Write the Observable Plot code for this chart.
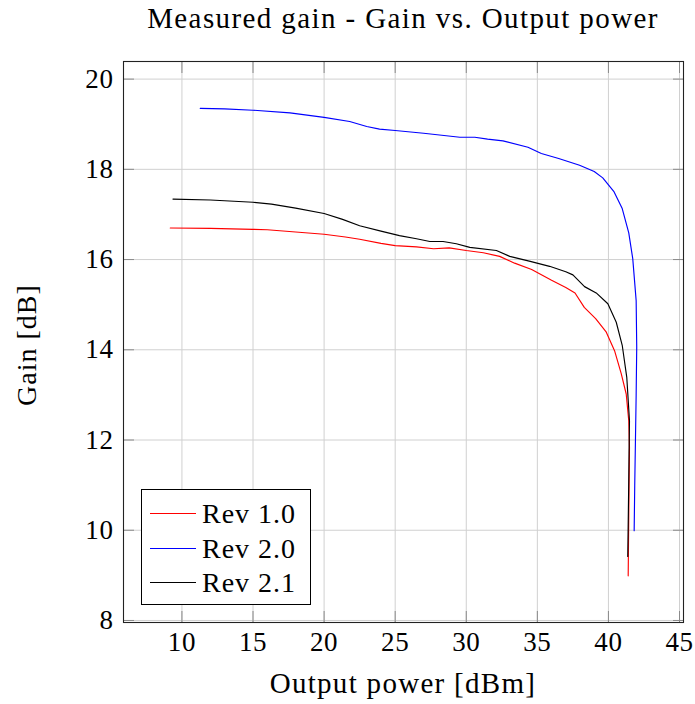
<!DOCTYPE html>
<html>
<head>
<meta charset="utf-8">
<script src="https://cdn.jsdelivr.net/npm/d3@7"></script>
<script src="https://cdn.jsdelivr.net/npm/@observablehq/plot@0.6"></script>
<style>
  html, body { margin: 0; padding: 0; background: #fff; }
  #wrap { position: relative; width: 695px; height: 704px; font-family: "Liberation Serif", "Times New Roman", serif; color: #000; }
  .txt { position: absolute; font-size: 28px; line-height: 28px; white-space: nowrap; letter-spacing: 1px; }
  #title { left: 123px; width: 560px; top: 4px; text-align: center; font-size: 29px; letter-spacing: 1.4px; }
  #xlabel { left: 123px; width: 560px; top: 669px; text-align: center; font-size: 29px; letter-spacing: 1.3px; }
  #ylabel { left: 27px; top: 345px; transform: translate(-50%, -50%) rotate(-90deg); }
  #chart { position: absolute; left: 0; top: 45px; }
  #legend { position: absolute; left: 141px; top: 489px; width: 168px; height: 114px; border: 1px solid #000; background: #fff; }
  .row { position: absolute; left: 0; height: 28px; width: 168px; }
  .row .sw { position: absolute; left: 8px; top: 13px; width: 46px; height: 0; border-top: 1.2px solid; }
  .row .lab { position: absolute; left: 60px; top: 0; font-size: 28px; line-height: 28px; letter-spacing: 1px; white-space: nowrap; }
</style>
</head>
<body>
<div id="wrap">
  <div id="title" class="txt">Measured gain - Gain vs. Output power</div>
  <div id="chart"></div>
  <div id="legend"></div>
  <div id="xlabel" class="txt">Output power [dBm]</div>
  <div id="ylabel" class="txt">Gain [dB]</div>
</div>
<script>
// ---- data ----
const seriesNames = ["Rev 1.0", "Rev 2.0", "Rev 2.1"];
const seriesColors = ["#ff0000", "#0000ff", "#000000"];

const rev10X = [9.18, 12.0, 15.0, 16.0, 18.0, 20.0, 21.5, 22.5, 24.0, 25.0, 26.5, 27.7, 28.8, 30.0, 31.2, 32.35, 33.4, 34.6, 36.0, 37.0, 37.65, 38.3, 39.1, 39.85, 40.43, 40.9, 41.25, 41.43, 41.48, 41.45, 41.43, 41.39];
const rev10Y = [16.70, 16.69, 16.67, 16.66, 16.61, 16.56, 16.50, 16.45, 16.36, 16.31, 16.28, 16.24, 16.26, 16.20, 16.15, 16.07, 15.92, 15.78, 15.54, 15.38, 15.26, 14.94, 14.69, 14.39, 13.98, 13.47, 13.02, 12.43, 11.84, 11.0, 10.36, 8.99];

const rev20X = [11.29, 13.0, 15.0, 17.6, 20.0, 21.8, 23.0, 23.9, 25.0, 27.0, 29.55, 30.6, 31.5, 32.58, 34.34, 35.28, 36.5, 37.97, 39.0, 39.6, 40.4, 40.97, 41.43, 41.71, 41.95, 41.99, 41.95, 41.9, 41.85, 41.81];
const rev20Y = [19.35, 19.34, 19.31, 19.25, 19.15, 19.06, 18.95, 18.89, 18.86, 18.80, 18.71, 18.71, 18.67, 18.63, 18.49, 18.35, 18.24, 18.09, 17.95, 17.81, 17.50, 17.13, 16.59, 16.02, 15.09, 14.06, 13.0, 11.99, 11.0, 9.99];

const rev21X = [9.37, 12.0, 15.0, 16.3, 18.0, 20.0, 21.3, 22.5, 24.0, 25.3, 26.5, 27.44, 28.37, 29.3, 30.25, 32.12, 33.06, 34.5, 35.86, 37.0, 37.5, 38.32, 39.14, 39.96, 40.55, 40.97, 41.29, 41.48, 41.45, 41.43, 41.36];
const rev21Y = [17.34, 17.32, 17.27, 17.23, 17.14, 17.02, 16.89, 16.75, 16.63, 16.53, 16.46, 16.40, 16.40, 16.35, 16.27, 16.20, 16.07, 15.96, 15.85, 15.73, 15.66, 15.40, 15.26, 15.02, 14.61, 14.10, 13.39, 12.43, 11.7, 11.10, 9.42];

const xTicks = [10, 15, 20, 25, 30, 35, 40, 45];
const yTicks = [8, 10, 12, 14, 16, 18, 20];
const xDomain = [5.89, 45.28];
const yDomain = [7.955, 20.39];

// ---- build table ----
const allX = [rev10X, rev20X, rev21X];
const allY = [rev10Y, rev20Y, rev21Y];
const data = [];
seriesNames.forEach((name, s) => {
  allX[s].forEach((x, i) => data.push({series: name, x, y: allY[s][i]}));
});

const tickColor = "#8a8a8a";
const gridColor = "#d0d0d0";

const chart = Plot.plot({
  width: 695,
  height: 659,
  marginTop: 16,
  marginBottom: 82,
  marginLeft: 123,
  marginRight: 12,
  style: {fontFamily: "'Liberation Serif', 'Times New Roman', serif", fontSize: "27px", background: "#fff", color: "#000", overflow: "visible", letterSpacing: "0.6px"},
  x: {domain: xDomain, label: null},
  y: {domain: yDomain, label: null},
  color: {domain: seriesNames, range: seriesColors},
  marks: [
    Plot.gridX(xTicks, {stroke: gridColor, strokeOpacity: 1, strokeWidth: 1}),
    Plot.gridY(yTicks, {stroke: gridColor, strokeOpacity: 1, strokeWidth: 1}),
    Plot.axisX(xTicks, {anchor: "bottom", tickSize: -11, tickPadding: 20, stroke: tickColor, label: null, fill: "#000"}),
    Plot.axisX(xTicks, {anchor: "top", tickSize: -11, tickFormat: () => "", stroke: tickColor, label: null}),
    Plot.axisY(yTicks, {anchor: "left", tickSize: -11, tickPadding: 21, stroke: tickColor, label: null, fill: "#000"}),
    Plot.axisY(yTicks, {anchor: "right", tickSize: -11, tickFormat: () => "", stroke: tickColor, label: null}),
    Plot.line(data, {x: "x", y: "y", z: "series", stroke: "series", strokeWidth: 1.15, curve: "linear"}),
    Plot.frame({stroke: "#222", strokeWidth: 1.1})
  ]
});
document.getElementById("chart").appendChild(chart);

// ---- legend (inside the axes, as in the reference) ----
const legend = document.getElementById("legend");
const rowCenters = [23.5, 58.5, 93];
seriesNames.forEach((name, i) => {
  const row = document.createElement("div");
  row.className = "row";
  row.style.top = (rowCenters[i] - 14) + "px";
  const sw = document.createElement("div");
  sw.className = "sw";
  sw.style.borderTopColor = seriesColors[i];
  const lab = document.createElement("div");
  lab.className = "lab";
  lab.textContent = name;
  row.appendChild(sw);
  row.appendChild(lab);
  legend.appendChild(row);
});
</script>
</body>
</html>
